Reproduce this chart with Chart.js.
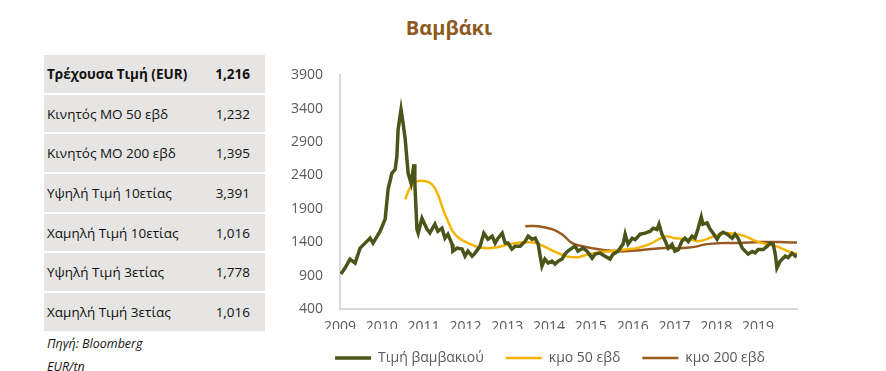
<!DOCTYPE html>
<html>
<head>
<meta charset="utf-8">
<script src="https://cdn.jsdelivr.net/npm/chart.js@4.4.1/dist/chart.umd.min.js"></script>
<style>
  html, body { margin: 0; padding: 0; background: #fff; overflow: hidden; }
  body { width: 886px; height: 371px; position: relative; font-family: "Open Sans", "Noto Sans", sans-serif; }
  #title { position: absolute; left: 349px; top: 14px; width: 200px; text-align: center; color: #8c5a1e; font-weight: bold; font-size: 20px; }
  #stats { position: absolute; left: 44px; top: 53px; width: 221px; border-collapse: separate; border-spacing: 0 2px; }
  #stats td { background: #e6e5e3; height: 37.7px; padding: 0; font-size: 13.5px; color: #111; }
  #stats td.lbl { padding-left: 3px; }
  #stats td.val { text-align: right; padding-right: 15px; }
  #stats tr.first td { font-weight: bold; }
  .note { position: absolute; left: 47px; font-style: italic; font-size: 12.5px; color: #111; }
  #box { position: absolute; left: 280px; top: 50px; width: 527px; height: 325px; }
</style>
</head>
<body>
<div id="title">Βαμβάκι</div>
<table id="stats"></table>
<div class="note" style="top:335px">Πηγή: Bloomberg</div>
<div class="note" style="top:358px">EUR/tn</div>
<div id="box"><canvas id="cottonChart"></canvas></div>
<script>
// --- DONNEES ---
const statLabels = ["Τρέχουσα Τιμή (EUR)", "Κινητός ΜΟ 50 εβδ", "Κινητός ΜΟ 200 εβδ", "Υψηλή Τιμή 10ετίας", "Χαμηλή Τιμή 10ετίας", "Υψηλή Τιμή 3ετίας", "Χαμηλή Τιμή 3ετίας"];
const statValues = ["1,216", "1,232", "1,395", "3,391", "1,016", "1,778", "1,016"];

const yearTicks = [2009, 2010, 2011, 2012, 2013, 2014, 2015, 2016, 2017, 2018, 2019];
const valueTicks = [400, 900, 1400, 1900, 2400, 2900, 3400, 3900];

const priceYears = [2009.02, 2009.12, 2009.24, 2009.36, 2009.48, 2009.60, 2009.72, 2009.79, 2009.96, 2010.08,
  2010.15, 2010.24, 2010.32, 2010.36, 2010.39, 2010.46, 2010.51, 2010.56, 2010.63, 2010.70,
  2010.77, 2010.79, 2010.84, 2010.87, 2010.96, 2011.08, 2011.15, 2011.27, 2011.34, 2011.44,
  2011.51, 2011.58, 2011.68, 2011.70, 2011.80, 2011.92, 2011.99, 2012.06, 2012.16, 2012.23,
  2012.35, 2012.44, 2012.54, 2012.64, 2012.71, 2012.78, 2012.88, 2012.95, 2013.02, 2013.11,
  2013.19, 2013.31, 2013.43, 2013.50, 2013.59, 2013.67, 2013.74, 2013.78, 2013.83, 2013.90,
  2013.98, 2014.07, 2014.14, 2014.22, 2014.31, 2014.38, 2014.45, 2014.55, 2014.62, 2014.69,
  2014.81, 2014.91, 2015.03, 2015.10, 2015.22, 2015.34, 2015.46, 2015.53, 2015.65, 2015.77,
  2015.82, 2015.89, 2015.99, 2016.06, 2016.18, 2016.30, 2016.42, 2016.49, 2016.58, 2016.63,
  2016.70, 2016.78, 2016.85, 2016.94, 2017.01, 2017.09, 2017.18, 2017.25, 2017.33, 2017.42,
  2017.49, 2017.56, 2017.64, 2017.68, 2017.78, 2017.85, 2017.92, 2018.02, 2018.09, 2018.16,
  2018.26, 2018.38, 2018.45, 2018.52, 2018.62, 2018.69, 2018.76, 2018.86, 2018.93, 2019.00,
  2019.12, 2019.22, 2019.29, 2019.36, 2019.41, 2019.45, 2019.53, 2019.65, 2019.72, 2019.81,
  2019.89, 2019.93];
const priceValues = [923, 1013, 1148, 1088, 1312, 1387, 1461, 1387, 1566, 1746,
  2194, 2433, 2493, 2687, 3091, 3391, 3181, 2942, 2433, 2284,
  2568, 2284, 1596, 1536, 1760, 1596, 1540, 1671, 1566, 1611,
  1461, 1521, 1372, 1267, 1312, 1297, 1192, 1267, 1192, 1237,
  1342, 1536, 1446, 1491, 1387, 1461, 1536, 1387, 1387, 1297,
  1342, 1342, 1417, 1491, 1446, 1461, 1372, 1222, 1043, 1148,
  1088, 1118, 1073, 1118, 1148, 1222, 1267, 1312, 1342, 1267,
  1312, 1267, 1162, 1222, 1237, 1192, 1148, 1222, 1267, 1372,
  1521, 1372, 1461, 1440, 1521, 1536, 1566, 1611, 1590, 1671,
  1521, 1417, 1312, 1370, 1267, 1290, 1417, 1461, 1410, 1491,
  1460, 1596, 1778, 1671, 1690, 1596, 1540, 1446, 1521, 1551,
  1521, 1461, 1521, 1461, 1312, 1267, 1222, 1260, 1240, 1290,
  1290, 1342, 1387, 1370, 1222, 1016, 1118, 1192, 1170, 1237,
  1192, 1216];

const ma50Years = [2010.56, 2010.67, 2010.84, 2011.03, 2011.20, 2011.34, 2011.46, 2011.58, 2011.70, 2011.85,
  2012.05, 2012.30, 2012.55, 2012.80, 2013.05, 2013.30, 2013.50, 2013.70, 2013.90, 2014.20,
  2014.45, 2014.70, 2014.95, 2015.20, 2015.45, 2015.70, 2015.90, 2016.10, 2016.40, 2016.63,
  2016.78, 2017.01, 2017.35, 2017.59, 2017.83, 2018.09, 2018.30, 2018.50, 2018.68, 2018.95,
  2019.19, 2019.43, 2019.60, 2019.84, 2019.93];
const ma50Values = [2044, 2209, 2314, 2314, 2269, 2119, 1900, 1720, 1560, 1460,
  1390, 1330, 1312, 1330, 1370, 1395, 1400, 1387, 1330, 1240,
  1185, 1177, 1222, 1252, 1267, 1282, 1297, 1312, 1372, 1446,
  1491, 1461, 1446, 1417, 1461, 1521, 1535, 1521, 1491, 1417,
  1372, 1342, 1297, 1237, 1232];

const ma200Years = [2013.43, 2013.74, 2014.07, 2014.31, 2014.55, 2014.79, 2015.03, 2015.34, 2015.65, 2015.82,
  2016.18, 2016.66, 2017.13, 2017.44, 2017.78, 2018.09, 2018.56, 2019.04, 2019.52, 2019.93];
const ma200Values = [1641, 1641, 1596, 1521, 1387, 1342, 1312, 1282, 1267, 1267,
  1282, 1312, 1312, 1327, 1372, 1387, 1390, 1402, 1402, 1395];

// --- TABLEAU ---
const table = document.getElementById("stats");
statLabels.forEach((label, i) => {
  const tr = document.createElement("tr");
  if (i === 0) tr.className = "first";
  tr.innerHTML = '<td class="lbl">' + label + '</td><td class="val">' + statValues[i] + '</td>';
  table.appendChild(tr);
});

function points(xs, ys) {
  return xs.map((x, i) => ({ x: x, y: ys[i] }));
}

// petit decalage de la legende pour la centrer comme l'original
const legendShift = {
  id: "legendShift",
  afterLayout(chart) {
    chart.legend.left += 9;
    chart.legend.right += 9;
  }
};

// --- CHART ---
const ctx = document.getElementById("cottonChart").getContext("2d");
const chart = new Chart(ctx, {
  type: "line",
  data: {
    datasets: [{
      label: "Τιμή βαμβακιού",
      data: points(priceYears, priceValues),
      borderColor: "#4b5519",
      backgroundColor: "#4b5519",
      borderWidth: 3.5,
      pointRadius: 0,
      tension: 0
    }, {
      label: "κμο 50 εβδ",
      data: points(ma50Years, ma50Values),
      borderColor: "#f4b400",
      backgroundColor: "#f4b400",
      borderWidth: 2.5,
      pointRadius: 0,
      tension: 0.4
    }, {
      label: "κμο 200 εβδ",
      data: points(ma200Years, ma200Values),
      borderColor: "#985a20",
      backgroundColor: "#985a20",
      borderWidth: 2.5,
      pointRadius: 0,
      tension: 0.4
    }]
  },
  plugins: [legendShift],
  options: {
    animation: false,
    responsive: true,
    maintainAspectRatio: false,
    layout: { padding: { left: 5, right: 10, top: 23, bottom: 0 } },
    plugins: {
      tooltip: { enabled: false },
      legend: {
        position: "bottom",
        labels: {
          usePointStyle: true,
          pointStyle: "line",
          pointStyleWidth: 36,
          padding: 22,
          color: "#595959",
          font: { family: "Open Sans", size: 14 }
        }
      }
    },
    scales: {
      x: {
        type: "linear",
        min: 2009,
        max: 2019.93,
        grid: { display: false, drawTicks: false },
        border: { display: true, color: "#d9d9d9", width: 2 },
        afterBuildTicks: s => { s.ticks = yearTicks.map(v => ({ value: v })); },
        afterFit: s => { s.height = 20; },
        ticks: {
          padding: 10,
          maxRotation: 0,
          color: "#595959",
          font: { family: "Open Sans", size: 14 },
          callback: v => String(v)
        }
      },
      y: {
        min: 400,
        max: 3900,
        grid: { display: false, drawTicks: false },
        border: { display: true, color: "#d9d9d9", width: 2 },
        afterBuildTicks: s => { s.ticks = valueTicks.map(v => ({ value: v })); },
        afterFit: s => { s.width = 55; },
        ticks: {
          padding: 17,
          color: "#595959",
          font: { family: "Open Sans", size: 14 },
          callback: v => String(v)
        }
      }
    }
  }
});
</script>
</body>
</html>
